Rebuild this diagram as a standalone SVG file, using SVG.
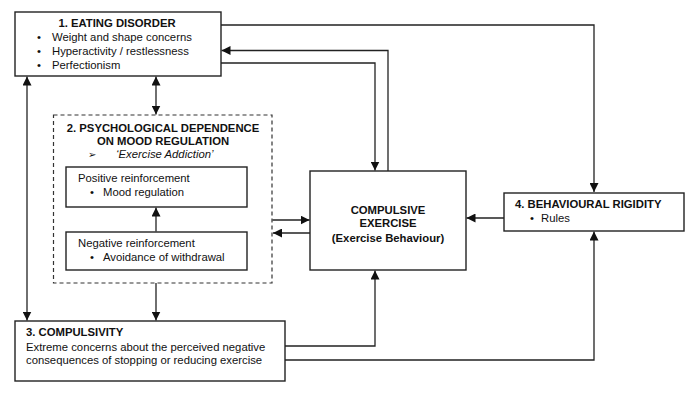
<svg xmlns="http://www.w3.org/2000/svg" width="694" height="400" viewBox="0 0 694 400">
<style>
.box{fill:#fff;stroke:#222;stroke-width:1.4}
.dash{fill:#fff;stroke:#333;stroke-width:1.2;stroke-dasharray:4,3}
.ln{fill:none;stroke:#222;stroke-width:1.3}
text{font-family:"Liberation Sans",Arial,sans-serif;font-size:11.3px;fill:#111}
.b{font-weight:bold}
.i{font-style:italic}
.c{text-anchor:middle}
</style>
<defs>
<marker id="ah" markerUnits="userSpaceOnUse" markerWidth="9" markerHeight="9" refX="8" refY="4" orient="auto-start-reverse" viewBox="0 0 8 8">
<path d="M0,0 L8,4 L0,8 z" fill="#111"/>
</marker>
</defs>
<g id="eating-disorder">
<rect class="box" x="15" y="12" width="206" height="64"/>
<text class="b c" x="117" y="27">1. EATING DISORDER</text>
<text x="37" y="41">•</text><text x="52" y="41">Weight and shape concerns</text>
<text x="37" y="55">•</text><text x="52" y="55">Hyperactivity / restlessness</text>
<text x="37" y="69">•</text><text x="52" y="69">Perfectionism</text>
</g>
<g id="psych-dependence">
<rect class="dash" x="53.5" y="115" width="218.5" height="168"/>
<text class="b c" x="163" y="131.5">2. PSYCHOLOGICAL DEPENDENCE</text>
<text class="b c" x="163" y="145">ON MOOD REGULATION</text>
<text x="88" y="158" style="font-size:10px">➢</text>
<text class="i" x="116" y="158">‘Exercise Addiction’</text>
</g>
<g id="positive-reinforcement">
<rect class="box" x="66" y="167" width="181" height="40"/>
<text x="78" y="182">Positive reinforcement</text>
<text x="90" y="196">•</text><text x="103" y="196">Mood regulation</text>
</g>
<g id="negative-reinforcement">
<rect class="box" x="66" y="232" width="181" height="38"/>
<text x="78" y="247">Negative reinforcement</text>
<text x="90" y="261">•</text><text x="103" y="261">Avoidance of withdrawal</text>
</g>
<g id="compulsive-exercise">
<rect class="box" x="310" y="171" width="156" height="99"/>
<text class="b c" x="388" y="214">COMPULSIVE</text>
<text class="b c" x="388" y="227">EXERCISE</text>
<text class="b c" x="388" y="242">(Exercise Behaviour)</text>
</g>
<g id="behavioural-rigidity">
<rect class="box" x="504" y="193" width="180" height="38"/>
<text class="b" x="515" y="208">4. BEHAVIOURAL RIGIDITY</text>
<text x="530" y="222">•</text><text x="541" y="222">Rules</text>
</g>
<g id="compulsivity">
<rect class="box" x="15" y="321" width="270" height="60"/>
<text class="b" x="26" y="336">3. COMPULSIVITY</text>
<text x="26" y="350.5">Extreme concerns about the perceived negative</text>
<text x="26" y="363.5">consequences of stopping or reducing exercise</text>
</g>
<g id="connectors">
<path class="ln" d="M221,25 H594 V192" marker-end="url(#ah)"/>
<path class="ln" d="M388,171 V50.5 H221.5" marker-end="url(#ah)"/>
<path class="ln" d="M221,63 H375 V170.5" marker-end="url(#ah)"/>
<path class="ln" d="M156,76.5 V114.5" marker-start="url(#ah)" marker-end="url(#ah)"/>
<path class="ln" d="M27,76.5 V320.5" marker-start="url(#ah)" marker-end="url(#ah)"/>
<path class="ln" d="M156,283 V320.5" marker-end="url(#ah)"/>
<path class="ln" d="M156,231.5 V207.5" marker-end="url(#ah)"/>
<path class="ln" d="M272.5,220 H309.5" marker-end="url(#ah)"/>
<path class="ln" d="M310,233 H273" marker-end="url(#ah)"/>
<path class="ln" d="M504,218 H466.5" marker-end="url(#ah)"/>
<path class="ln" d="M285,346 H375 V270.5" marker-end="url(#ah)"/>
<path class="ln" d="M285,360 H594 V231.5" marker-end="url(#ah)"/>
</g>
</svg>
